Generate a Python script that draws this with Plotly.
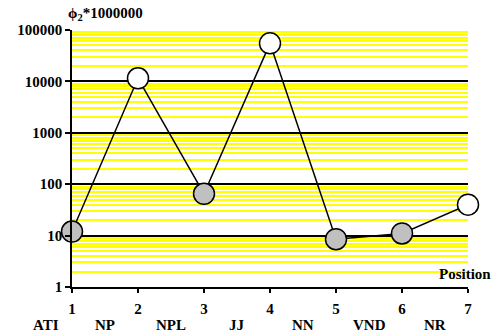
import plotly.graph_objects as go

positions = [1, 2, 3, 4, 5, 6, 7]
values = [12, 11500, 65, 55000, 8.5, 11, 40]
fill_colors = ["#C0C0C0", "#FFFFFF", "#C0C0C0", "#FFFFFF", "#C0C0C0", "#C0C0C0", "#FFFFFF"]
categories = ["ATI", "NP", "NPL", "JJ", "NN", "VND", "NR"]
category_x = [0.6, 1.5, 2.5, 3.5, 4.5, 5.5, 6.5]
y_major = [1, 10, 100, 1000, 10000, 100000]
y_minor = [m * 10 ** e for e in range(0, 5) for m in range(2, 10)]

FONT = "Liberation Serif"
FS = 15
X_MIN, X_MAX = 1, 7

fig = go.Figure()
fig.add_trace(go.Scatter(
    x=positions, y=values, mode="lines+markers",
    line=dict(color="black", width=1.5),
    marker=dict(size=21, color=fill_colors, line=dict(color="black", width=1.5)),
    cliponaxis=False, showlegend=False, hoverinfo="skip",
))

for lab, cx in zip(categories, category_x):
    fig.add_annotation(x=(cx - X_MIN) / (X_MAX - X_MIN), y=0, xref="paper", yref="paper",
                       yshift=-38, yanchor="middle", xanchor="center",
                       text="<b>" + lab + "</b>", showarrow=False,
                       font=dict(family=FONT, size=FS, color="black"))

fig.add_annotation(x=0, y=1, xref="paper", yref="paper", xanchor="left", yanchor="bottom",
                   xshift=-6, yshift=5, text="<b>ϕ<sub>2</sub>*1000000</b>", showarrow=False,
                   font=dict(family=FONT, size=FS, color="black"))
fig.add_annotation(x=1, y=0, xref="paper", yref="paper", xanchor="right", yanchor="middle",
                   xshift=25, yshift=13, text="<b>Position</b>", showarrow=False,
                   font=dict(family=FONT, size=FS, color="black"))

fig.update_layout(
    width=493, height=335,
    margin=dict(l=72, r=25, t=30, b=48, autoexpand=False),
    paper_bgcolor="white", plot_bgcolor="white",
    font=dict(family=FONT, size=FS, color="black"),
    xaxis=dict(range=[X_MIN, X_MAX], tickvals=positions, ticktext=["<b>%d</b>" % p for p in positions],
               showgrid=False, zeroline=False, showline=True, linecolor="black", linewidth=1.5,
               ticks="outside", ticklen=4, tickwidth=1.5, tickcolor="black", ticklabelstandoff=3,
               automargin=False),
    yaxis=dict(type="log", range=[0, 5], tickvals=y_major,
               ticktext=["<b>%d</b>" % v for v in y_major],
               showgrid=True, gridcolor="black", gridwidth=1.5,
               zeroline=False, showline=True, linecolor="black", linewidth=1.5,
               ticks="outside", ticklen=5, tickwidth=1.5, tickcolor="black", automargin=False,
               minor=dict(tickvals=y_minor, showgrid=True, gridcolor="#FFFF00", gridwidth=2, ticks="")),
)

fig.write_html("out.html", config={"displayModeBar": False},
               post_script="document.body.style.margin='0';document.body.style.overflow='hidden';")
